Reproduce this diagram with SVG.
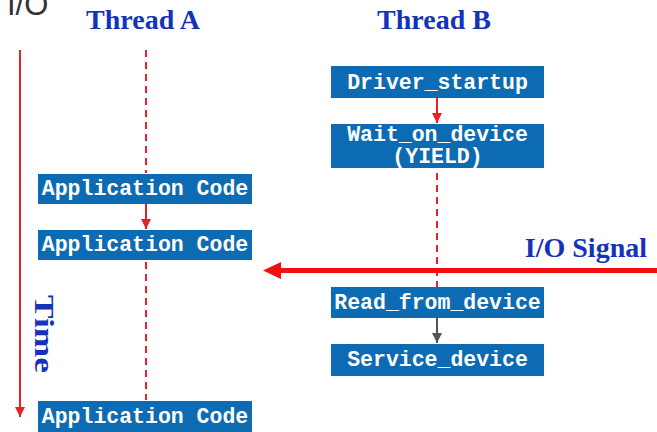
<svg xmlns="http://www.w3.org/2000/svg" width="657" height="432" viewBox="0 0 657 432">
<style>
.box{fill:#0d6bb3}
.bt{font-family:"Liberation Mono","Courier New",monospace;font-weight:bold;font-size:21.5px;fill:#ffffff;text-anchor:middle}
.ttl{font-family:"Liberation Serif","Times New Roman",serif;font-weight:bold;font-size:28px;fill:#1433b8}
.dash{stroke:#e8202a;stroke-width:2;stroke-dasharray:7 5;fill:none}
.red{stroke:#e8202a;stroke-width:2;fill:none}
</style>
<defs>
<marker id="ar" viewBox="0 0 10 10" refX="10" refY="5" markerWidth="5" markerHeight="5" orient="auto" markerUnits="strokeWidth"><path d="M0,0L10,5L0,10z" fill="#e8202a"/></marker>
<marker id="ag" viewBox="0 0 10 10" refX="10" refY="5" markerWidth="5" markerHeight="5" orient="auto" markerUnits="strokeWidth"><path d="M0,0L10,5L0,10z" fill="#555555"/></marker>
</defs>
<g id="labels">
<text x="7" y="15" font-family="Liberation Sans,Arial,sans-serif" font-size="31" fill="#333333">I/O</text>
<text class="ttl" x="143" y="29" text-anchor="middle">Thread A</text>
<text class="ttl" x="434" y="29" text-anchor="middle">Thread B</text>
<text class="ttl" x="647" y="257" text-anchor="end">I/O Signal</text>
<text class="ttl" transform="translate(35,334) rotate(90)" text-anchor="middle" font-size="29" textLength="78" lengthAdjust="spacingAndGlyphs">Time</text>
</g>
<g id="connectors">
<line class="red" x1="20" y1="50" x2="20" y2="417" marker-end="url(#ar)"/>
<line class="dash" x1="146" y1="50" x2="146" y2="173"/>
<line class="red" x1="146" y1="204" x2="146" y2="229" marker-end="url(#ar)"/>
<line class="dash" x1="146" y1="262" x2="146" y2="400"/>
<line class="red" x1="437" y1="98" x2="437" y2="123" marker-end="url(#ar)"/>
<line class="dash" x1="437" y1="173" x2="437" y2="287"/>
<line x1="437" y1="318" x2="437" y2="343" stroke="#555555" stroke-width="2" marker-end="url(#ag)"/>
<line x1="657" y1="270.5" x2="280" y2="270.5" stroke="#f01010" stroke-width="5"/>
<path d="M263,270.5L281,262L281,279z" fill="#f01010"/>
</g>
<g id="driver_startup"><rect class="box" x="331" y="66" width="213" height="32"/><text class="bt" x="437.5" y="89">Driver_startup</text></g>
<g id="wait_on_device"><rect class="box" x="331" y="124" width="213" height="44"/><text class="bt" x="437.5" y="141">Wait_on_device</text><text class="bt" x="437.5" y="163">(YIELD)</text></g>
<g id="app_code_1"><rect class="box" x="38" y="174" width="214" height="30"/><text class="bt" x="145" y="195">Application Code</text></g>
<g id="app_code_2"><rect class="box" x="38" y="230" width="214" height="30"/><text class="bt" x="145" y="251">Application Code</text></g>
<g id="read_from_device"><rect class="box" x="331" y="287" width="213" height="31"/><text class="bt" x="437.5" y="309">Read_from_device</text></g>
<g id="service_device"><rect class="box" x="331" y="344" width="213" height="32"/><text class="bt" x="437.5" y="366">Service_device</text></g>
<g id="app_code_3"><rect class="box" x="38" y="401" width="214" height="31"/><text class="bt" x="145" y="423">Application Code</text></g>
</svg>
